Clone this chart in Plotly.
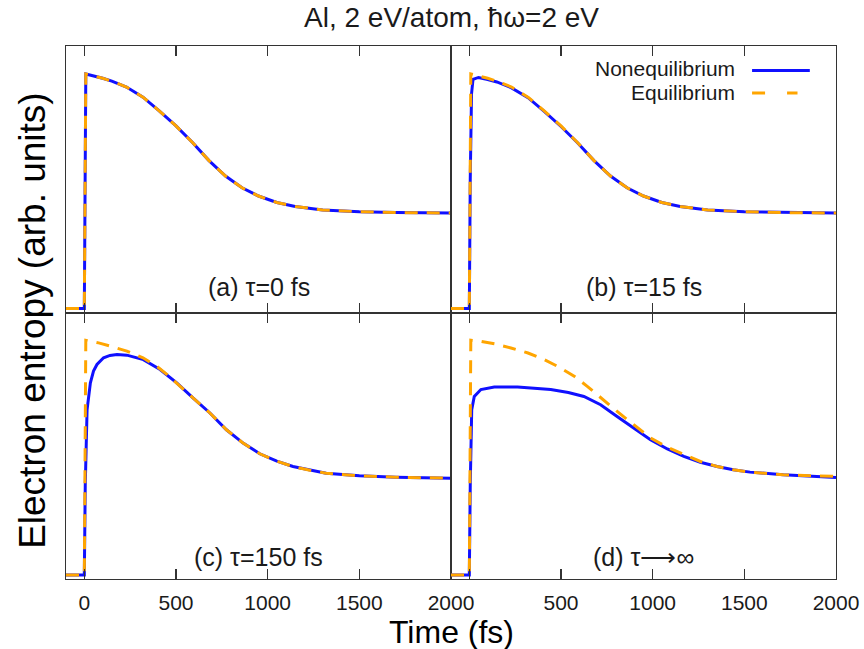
import plotly.graph_objects as go

# ---------------- data (arb. units, time in fs) ----------------
# panel (a) tau = 0 fs : nonequilibrium and equilibrium coincide
t_a = [-100, -2, 0, 8, 50, 100, 150, 230, 320, 410, 500, 590, 680, 770, 860, 950,
       1050, 1150, 1300, 1500, 1700, 2000]
eq_a = [0.015, 0.015, 0.015, 0.895, 0.888, 0.879, 0.868, 0.846, 0.808, 0.756, 0.700,
        0.638, 0.570, 0.512, 0.468, 0.437, 0.413, 0.398, 0.385, 0.378, 0.375, 0.373]
neq_a = list(eq_a)

# panel (b) tau = 15 fs
t_b_neq = [-100, -2, 0, 5, 12, 20, 50, 100, 150, 230, 320, 410, 500, 590, 680, 770,
           860, 950, 1050, 1150, 1300, 1500, 1700, 2000]
neq_b = [0.015, 0.015, 0.015, 0.50, 0.82, 0.875, 0.882, 0.874, 0.865, 0.843, 0.806,
         0.754, 0.698, 0.637, 0.570, 0.512, 0.468, 0.437, 0.413, 0.398, 0.385, 0.378,
         0.375, 0.373]
t_b_eq = t_a
eq_b = list(eq_a)

# panel (c) tau = 150 fs
t_c_neq = [-100, -2, 0, 5, 15, 33, 50, 69, 105, 140, 178, 232, 322, 413, 504, 594,
           685, 775, 866, 957, 1050, 1138, 1230, 1319, 1500, 1700, 2000]
neq_c = [0.015, 0.015, 0.015, 0.35, 0.635, 0.736, 0.780, 0.805, 0.830, 0.839, 0.842,
         0.840, 0.823, 0.786, 0.736, 0.679, 0.623, 0.560, 0.510, 0.470, 0.442, 0.422,
         0.408, 0.397, 0.387, 0.382, 0.378]
t_c_eq = [-100, -2, 0, 8, 78, 150, 232, 320, 395, 450, 504, 594, 685, 775, 866, 957,
          1050, 1138, 1230, 1319, 1500, 1700, 2000]
eq_c = [0.015, 0.015, 0.015, 0.896, 0.886, 0.872, 0.855, 0.830, 0.798, 0.768, 0.736,
        0.679, 0.623, 0.560, 0.510, 0.470, 0.442, 0.422, 0.408, 0.397, 0.387, 0.382,
        0.378]

# panel (d) tau -> infinity
t_d_neq = [-100, -2, 0, 5, 13, 27, 63, 136, 263, 444, 540, 625, 716, 806, 897, 988,
           1080, 1170, 1260, 1351, 1440, 1531, 1712, 2000]
neq_d = [0.015, 0.015, 0.015, 0.35, 0.635, 0.685, 0.711, 0.720, 0.720, 0.711, 0.700,
         0.685, 0.654, 0.610, 0.566, 0.523, 0.488, 0.460, 0.438, 0.422, 0.410, 0.401,
         0.391, 0.381]
t_d_eq = [-100, -2, 0, 8, 63, 140, 227, 320, 409, 490, 572, 645, 717, 790, 862, 925,
          989, 1080, 1170, 1260, 1351, 1440, 1531, 1712, 2000]
eq_d = [0.015, 0.015, 0.015, 0.896, 0.892, 0.882, 0.867, 0.848, 0.823, 0.795, 0.761,
        0.722, 0.679, 0.638, 0.598, 0.562, 0.529, 0.494, 0.466, 0.441, 0.422, 0.410,
        0.401, 0.391, 0.385]

panel_labels = ["(a) τ=0 fs", "(b) τ=15 fs", "(c) τ=150 fs", "(d) τ⟶∞"]
x_ticks = [0, 500, 1000, 1500, 2000]
title_text = "Al, 2 eV/atom, ħω=2 eV"
series_names = ["Nonequilibrium", "Equilibrium"]

# ---------------- styling ----------------
BLUE = "#1010ff"
ORANGE = "#ffa500"
TXT = "#1a1a1a"
FRAME = "#333333"
FONT = "Liberation Sans, Arial, sans-serif"

fig = go.Figure()

panels = [
    ("x", "y", t_a, neq_a, t_a, eq_a),
    ("x2", "y2", t_b_neq, neq_b, t_b_eq, eq_b),
    ("x3", "y3", t_c_neq, neq_c, t_c_eq, eq_c),
    ("x4", "y4", t_d_neq, neq_d, t_d_eq, eq_d),
]
for xa, ya, tn, vn, te, ve in panels:
    fig.add_trace(go.Scatter(x=tn, y=vn, xaxis=xa, yaxis=ya, mode="lines",
                             line=dict(color=BLUE, width=3), name=series_names[0],
                             showlegend=False, hoverinfo="skip"))
    fig.add_trace(go.Scatter(x=te, y=ve, xaxis=xa, yaxis=ya, mode="lines",
                             line=dict(color=ORANGE, width=3, dash="13px,9px"),
                             name=series_names[1], showlegend=False, hoverinfo="skip"))

axis_common = dict(range=[-100, 2000], showline=True, mirror="ticks", linecolor=FRAME,
                   linewidth=1, ticks="inside", ticklen=10, tickwidth=1.2,
                   tickcolor=FRAME, tickvals=x_ticks, showgrid=False, zeroline=False,
                   ticklabelstandoff=5, automargin=False,
                   tickfont=dict(family=FONT, size=21, color=TXT))
yaxis_common = dict(range=[0, 1], showline=True, mirror=True, linecolor=FRAME,
                    linewidth=1, showticklabels=False, ticks="", showgrid=False,
                    zeroline=False, automargin=False)

fig.update_layout(
    width=864, height=649,
    margin=dict(l=66, r=28, t=46, b=70, autoexpand=False),
    paper_bgcolor="white", plot_bgcolor="white",
    xaxis=dict(axis_common, domain=[0, 0.5], anchor="y", showticklabels=False),
    xaxis2=dict(axis_common, domain=[0.5, 1], anchor="y2", showticklabels=False),
    xaxis3=dict(axis_common, domain=[0, 0.5], anchor="y3",
                ticktext=[str(v) for v in x_ticks]),
    xaxis4=dict(axis_common, domain=[0.5, 1], anchor="y4",
                ticktext=[""] + [str(v) for v in x_ticks[1:]]),
    yaxis=dict(yaxis_common, domain=[0.5, 1], anchor="x"),
    yaxis2=dict(yaxis_common, domain=[0.5, 1], anchor="x2"),
    yaxis3=dict(yaxis_common, domain=[0, 0.5], anchor="x3"),
    yaxis4=dict(yaxis_common, domain=[0, 0.5], anchor="x4"),
    showlegend=False,
)

# title
fig.add_annotation(text=title_text, xref="paper", yref="paper", x=0.5, y=1.054,
                   showarrow=False, xanchor="center", yanchor="middle",
                   font=dict(family=FONT, size=28, color=TXT))

# panel labels
label_pos = [("x domain", "y domain", 0.094), ("x2 domain", "y2 domain", 0.094),
             ("x3 domain", "y3 domain", 0.083), ("x4 domain", "y4 domain", 0.083)]
for (xr, yr, yy), lab in zip(label_pos, panel_labels):
    fig.add_annotation(text=lab, xref=xr, yref=yr, x=0.5, y=yy, showarrow=False,
                       xanchor="center", yanchor="middle",
                       font=dict(family=FONT, size=25, color=TXT))

# axis titles
fig.add_annotation(text="Time (fs)", xref="paper", yref="paper", x=0.5, y=-0.099,
                   showarrow=False, xanchor="center", yanchor="middle",
                   font=dict(family=FONT, size=32, color="black"))
fig.add_annotation(text="Electron entropy (arb. units)", xref="paper", yref="paper",
                   x=-0.043, y=0.486, textangle=-90, showarrow=False,
                   xanchor="center", yanchor="middle",
                   font=dict(family=FONT, size=37, color="black"))

# custom legend (text left of sample, as in the reference)
leg_y = [0.914, 0.824]
for name, yy in zip(series_names, leg_y):
    fig.add_annotation(text=name, xref="x2 domain", yref="y2 domain", x=0.743, y=yy,
                       showarrow=False, xanchor="right", yanchor="middle",
                       font=dict(family=FONT, size=21, color=TXT))
fig.add_shape(type="line", xref="x2 domain", yref="y2 domain", x0=0.782, x1=0.932,
              y0=leg_y[0] - 0.006, y1=leg_y[0] - 0.006, line=dict(color=BLUE, width=3))
fig.add_shape(type="line", xref="x2 domain", yref="y2 domain", x0=0.782, x1=0.90,
              y0=leg_y[1], y1=leg_y[1], line=dict(color=ORANGE, width=3, dash="13px,22px"))

# remove the browser's default body margin / scrollbars so the figure fills the window
fig.write_html(
    "out.html",
    config={"displayModeBar": False, "staticPlot": True},
    post_script=("document.body.style.margin='0px';"
                 "document.body.style.overflow='hidden';"
                 "document.documentElement.style.overflow='hidden';"),
)
